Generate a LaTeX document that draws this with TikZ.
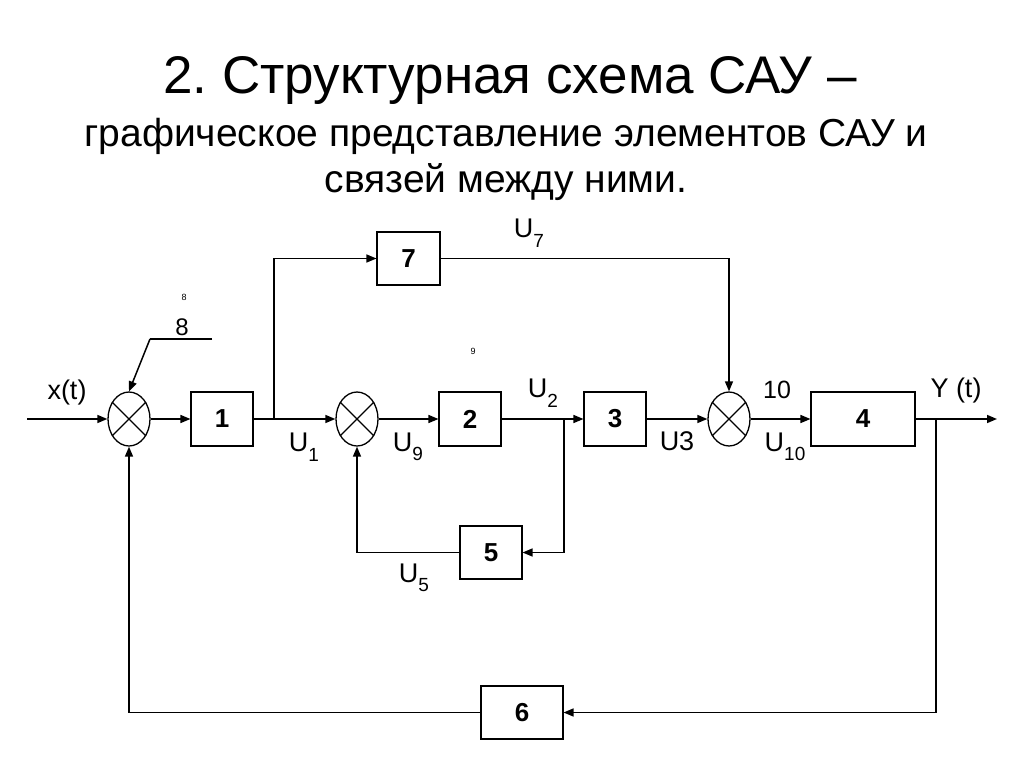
\documentclass[tikz,border=0pt]{standalone}
\usepackage{fontspec}
\setmainfont{Liberation Sans}
\usetikzlibrary{arrows.meta,shapes.geometric,calc}
\frenchspacing
\newcommand\Usub[1]{U\raisebox{-0.35em}{\fontsize{19}{19}\selectfont #1}}
\begin{document}
\begin{tikzpicture}[x=1pt,y=-1pt,
  blk/.style={draw,line width=1.1pt,inner sep=0pt,font=\fontsize{26}{26}\selectfont\bfseries},
  sum/.style={draw,ellipse,line width=1.3pt,minimum width=42pt,minimum height=54pt,inner sep=0pt},
  con/.style={line width=1.5pt},
  arr/.style={con,-{Triangle[length=10pt,width=8pt]}},
  lab/.style={font=\fontsize{27}{27}\selectfont,inner sep=0pt},
  tiny/.style={font=\fontsize{9}{9}\selectfont,inner sep=0pt}]
\useasboundingbox (0,0) rectangle (1024,767);
% title
\node[anchor=base,inner sep=0pt,font=\fontsize{53}{53}\selectfont] (t1) at (510,94) {2. Структурная схема САУ –};
\node[anchor=base,inner sep=0pt,font=\fontsize{39}{39}\selectfont] (t2) at (506,147) {графическое представление элементов САУ и};
\node[anchor=base,inner sep=0pt,font=\fontsize{39}{39}\selectfont] (t3) at (506,193) {связей между ними.};
% summing junctions
\node[sum] (s1) at (129,419) {};
\node[sum] (s2) at (357,419) {};
\node[sum] (s3) at (729,419) {};
\foreach \s in {s1,s2,s3}{
  \draw[line width=1.1pt] (\s.45) -- (\s.225);
  \draw[line width=1.1pt] (\s.135) -- (\s.315);
}
% blocks
\node[blk,minimum width=62pt,minimum height=54pt] (b1) at (222,419) {1};
\node[blk,minimum width=63pt,minimum height=53pt] (b7) at (408.5,258.5) {7};
\node[blk,minimum width=62pt,minimum height=54pt] (b2) at (470,419) {2};
\node[blk,minimum width=62pt,minimum height=54pt] (b3) at (615,419) {3};
\node[blk,minimum width=104pt,minimum height=54pt] (b4) at (863,419) {4};
\node[blk,minimum width=62pt,minimum height=53pt] (b5) at (491,552.5) {5};
\node[blk,minimum width=82pt,minimum height=53pt] (b6) at (522,712.5) {6};
% coordinates
\coordinate (in) at (27,419);
\coordinate (out) at (997,419);
\coordinate (j1) at (274,419);
\coordinate (j2) at (564,419);
\coordinate (j3) at (936,419);
\coordinate (d0) at (212,339);
\coordinate (d1) at (150,339);
% connectors
\draw[arr] (in) -- (s1.west);
\draw[arr] (s1.east) -- (b1.west);
\draw[arr] (b1.east) -- (s2.west);
\draw[arr] (j1) |- (b7.west);
\draw[arr] (b7.east) -| (s3.north);
\draw[arr] (s2.east) -- (b2.west);
\draw[arr] (b2.east) -- (b3.west);
\draw[arr] (j2) |- (b5.east);
\draw[arr] (b5.west) -| (s2.south);
\draw[arr] (b3.east) -- (s3.west);
\draw[arr] (s3.east) -- (b4.west);
\draw[arr] (b4.east) -- (out);
\draw[arr] (j3) |- (b6.east);
\draw[arr] (b6.west) -| (s1.south);
\draw[con,line width=1.1pt] (d0) -- (d1);
\draw[arr] (d1) -- (s1.north);
% labels
\node[lab] (lx) at (67,393) {x(t)};
\node[lab,font=\fontsize{24}{24}\selectfont] (l8) at (182,327) {8};
\node[tiny] (l8s) at (184,297) {8};
\node[tiny] (l9s) at (473,351) {9};
\node[lab] (u7) at (529,233) {\Usub{7}};
\node[lab] (u2) at (543,393) {\Usub{2}};
\node[lab] (u1) at (304,447) {\Usub{1}};
\node[lab] (u9) at (408,447) {\Usub{9}};
\node[lab] (u3) at (677,441) {U3};
\node[lab,font=\fontsize{25}{25}\selectfont] (l10) at (777,390) {10};
\node[lab] (u10) at (785,447) {\Usub{10}};
\node[lab] (ly) at (956,391) {Y (t)};
\node[lab] (u5) at (414,578) {\Usub{5}};
\end{tikzpicture}
\end{document}
